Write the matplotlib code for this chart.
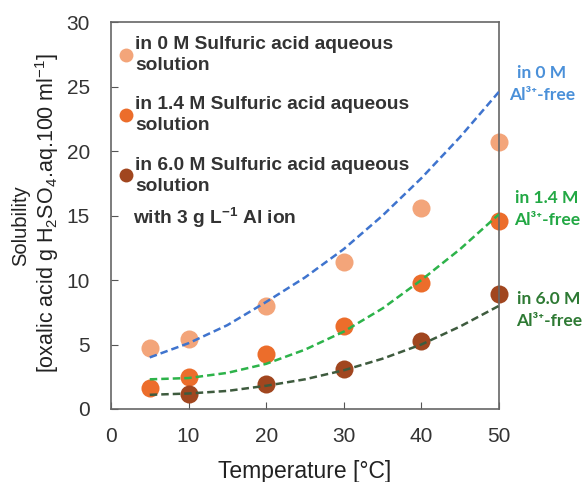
import matplotlib
matplotlib.use("Agg")
import matplotlib.pyplot as plt
from matplotlib.lines import Line2D

plt.rcParams['font.family'] = ['Liberation Sans', 'DejaVu Sans']
plt.rcParams['mathtext.fontset'] = 'custom'
plt.rcParams['mathtext.rm'] = 'Liberation Sans'
plt.rcParams['mathtext.it'] = 'Liberation Sans:italic'
plt.rcParams['mathtext.bf'] = 'Liberation Sans:bold'

# measured data
temp_0M = [5, 10, 20, 30, 40, 50]
sol_0M = [4.7, 5.4, 8.0, 11.4, 15.6, 20.7]
temp_14M = [5, 10, 20, 30, 40, 50]
sol_14M = [1.6, 2.5, 4.3, 6.4, 9.8, 14.6]
temp_6M = [10, 20, 30, 40, 50]
sol_6M = [1.2, 1.9, 3.1, 5.3, 8.9]

# Al3+-free reference curves
curve_t = [5, 10, 15, 20, 25, 30, 35, 40, 45, 50]
curve_0M = [4.0, 5.1, 6.5, 8.3, 10.2, 12.4, 15.0, 17.9, 21.1, 24.6]
curve_14M = [2.3, 2.4, 2.8, 3.5, 4.6, 6.0, 7.8, 10.0, 12.4, 15.1]
curve_6M = [1.1, 1.2, 1.4, 1.8, 2.3, 3.0, 3.9, 5.0, 6.4, 8.0]

xticks = [0, 10, 20, 30, 40, 50]
yticks = [0, 5, 10, 15, 20, 25, 30]

labels = ["in 0 M Sulfuric acid aqueous\nsolution",
          "in 1.4 M Sulfuric acid aqueous\nsolution",
          "in 6.0 M Sulfuric acid aqueous\nsolution"]
extra_label = "with 3 g L$^{\\mathbf{-1}}$ Al ion"
curve_labels = ["in 0 M\nAl³⁺-free", "in 1.4 M\nAl³⁺-free", "in 6.0 M\nAl³⁺-free"]

c_light = '#F3A57A'
c_mid = '#EC6D2B'
c_dark = '#A1461F'
c_blue = '#3F74CE'
c_green = '#2DB34A'
c_dgreen = '#3E5B3E'

fig = plt.figure(figsize=(5.87, 4.82), dpi=100)
ax = fig.add_axes([0.189, 0.1515, 0.661, 0.8025])

ms = 13
ax.plot(curve_t, curve_0M, '--', color=c_blue, lw=1.8, dashes=(3, 1.6), zorder=3)
ax.plot(curve_t, curve_14M, '--', color=c_green, lw=1.8, dashes=(3, 1.6), zorder=3)
ax.plot(curve_t, curve_6M, '--', color=c_dgreen, lw=1.8, dashes=(3, 1.6), zorder=3)
ax.plot(temp_0M, sol_0M, 'o', color=c_light, ms=ms, mec='none', zorder=2, clip_on=False)
ax.plot(temp_14M, sol_14M, 'o', color=c_mid, ms=ms, mec='none', zorder=2, clip_on=False)
ax.plot(temp_6M, sol_6M, 'o', color=c_dark, ms=ms, mec='none', zorder=2, clip_on=False)

ax.set_xlim(0, 50)
ax.set_ylim(0, 30)
ax.set_xticks(xticks)
ax.set_yticks(yticks)
ax.tick_params(direction='in', labelsize=15, length=5, colors='#555555',
               labelcolor='#333333', pad=13)
ax.tick_params(axis='y', pad=15)
for s in ax.spines.values():
    s.set_color('#666666')
    s.set_linewidth(1.2)

ax.set_xlabel("Temperature [°C]", fontsize=16.5, color='#222222', labelpad=10)

fig.text(0.036, 0.531, "Solubility", rotation=90, fontsize=14.5, color='#222222',
         ha='center', va='center')
fig.text(0.080, 0.558, "[oxalic acid g H$_2$SO$_4$.aq.100 ml$^{-1}$]", rotation=90,
         fontsize=15.5, color='#222222', ha='center', va='center')

handles = [Line2D([], [], marker='o', ls='none', color=c, mec='none', ms=10)
           for c in (c_light, c_mid, c_dark)]
leg = ax.legend(handles, labels, loc='upper left',
                bbox_to_anchor=(0.023, 0.964), frameon=False,
                prop={'size': 13.8, 'weight': 'bold'},
                handlelength=0.6, handletextpad=0.2, labelspacing=1.15,
                borderaxespad=0.0, borderpad=0.0)
for t in leg.get_texts():
    t.set_color('#333333')
    t.set_linespacing(1.32)
ax.text(0.057, 0.495, extra_label, transform=ax.transAxes, fontsize=13.8,
        fontweight='bold', color='#333333', ha='left', va='center')

# right-side labels
for lab, col, xf, yf in zip(curve_labels, ('#4A90D9', '#22A844', '#2E7A34'),
                            (1.111, 1.124, 1.129), (0.841, 0.518, 0.256)):
    ax.text(xf, yf, lab, transform=ax.transAxes, color=col,
            fontsize=12.5, fontweight='bold', ha='center', va='center',
            family=['Lato', 'DejaVu Sans'], linespacing=1.45)

fig.savefig("out.png", dpi=100)
